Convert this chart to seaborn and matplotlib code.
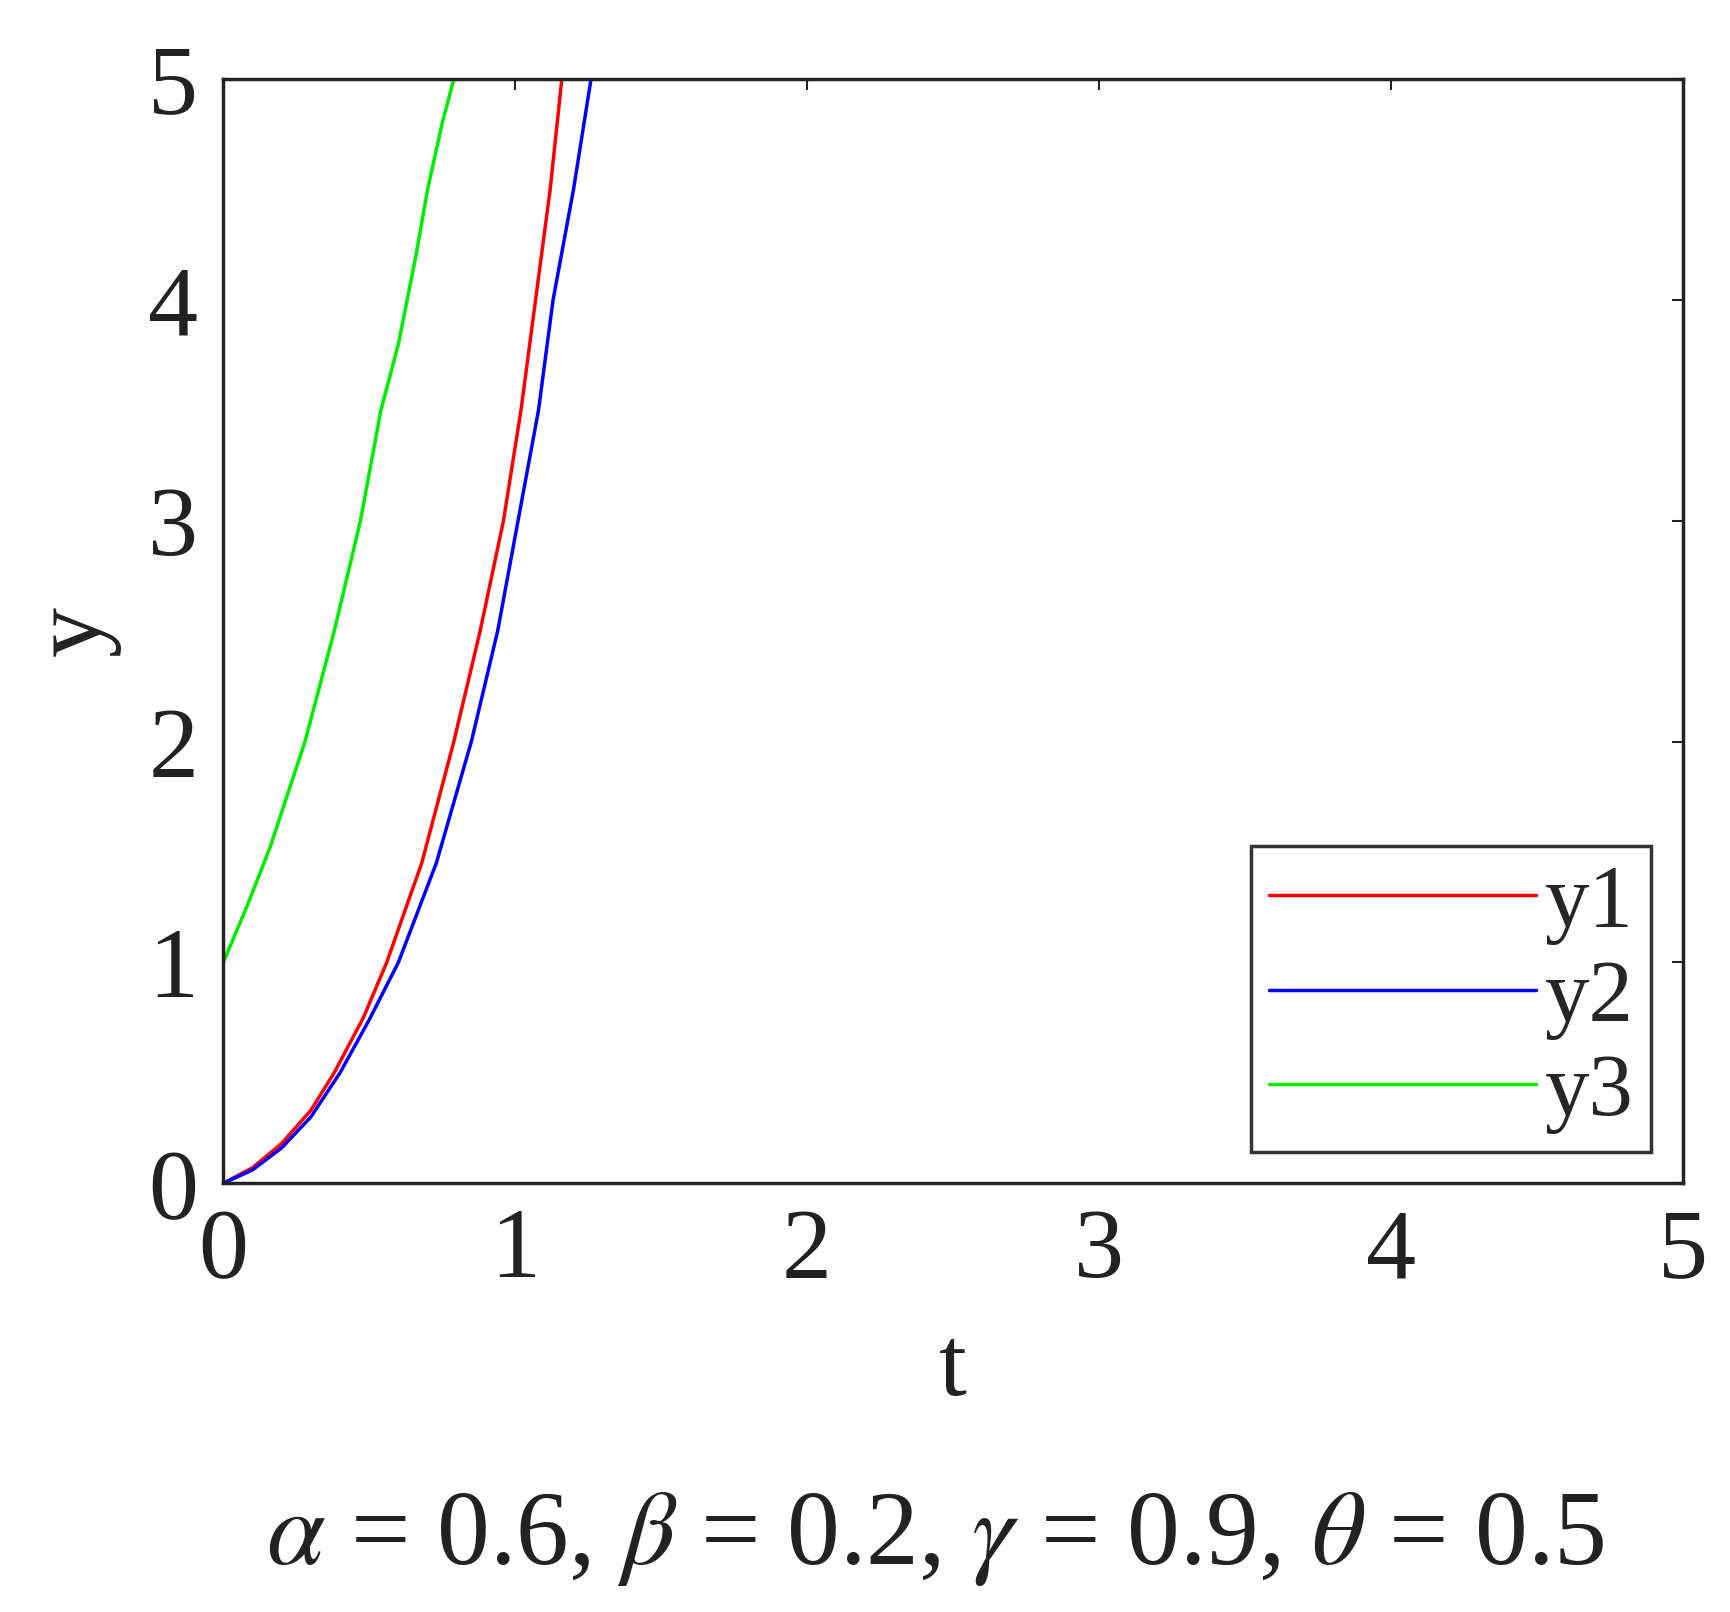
import numpy as np
import pandas as pd
import matplotlib
matplotlib.use('Agg')
import matplotlib.pyplot as plt
import seaborn as sns

# values
t1 = [0.0, 0.10, 0.20, 0.30, 0.38, 0.48, 0.56, 0.68, 0.79, 0.88, 0.96, 1.02, 1.07, 1.12, 1.16]
y1 = [0.0, 0.07, 0.18, 0.33, 0.50, 0.75, 1.00, 1.45, 2.00, 2.50, 3.00, 3.50, 4.00, 4.50, 5.00]
t2 = [0.0, 0.10, 0.20, 0.30, 0.40, 0.50, 0.60, 0.73, 0.85, 0.94, 1.01, 1.08, 1.13, 1.20, 1.26]
y2 = [0.0, 0.06, 0.16, 0.30, 0.50, 0.74, 1.00, 1.45, 2.00, 2.50, 3.00, 3.50, 4.00, 4.50, 5.00]
t3 = [0.0, 0.08, 0.16, 0.28, 0.38, 0.47, 0.54, 0.60, 0.66, 0.70, 0.75, 0.79, 0.83]
y3 = [1.0, 1.25, 1.52, 2.00, 2.50, 3.00, 3.50, 3.80, 4.20, 4.50, 4.80, 5.00, 5.20]

sns.set_theme(style='white')
plt.rcParams['font.family'] = ['Liberation Serif', 'DejaVu Serif']
plt.rcParams['mathtext.fontset'] = 'stix'

fig = plt.figure(figsize=(17.31, 16.12), dpi=100)
ax = fig.add_axes([0.129, 0.266, 0.843, 0.685])

sns.lineplot(x=t1, y=y1, color='#ff0000', lw=2.5, label='y1', ax=ax, sort=False)
sns.lineplot(x=t2, y=y2, color='#0000ff', lw=2.5, label='y2', ax=ax, sort=False)
sns.lineplot(x=t3, y=y3, color='#00ee00', lw=2.5, label='y3', ax=ax, sort=False)

ax.set_xlim(0, 5)
ax.set_ylim(0, 5)
ax.set_xticks(range(6))
ax.set_yticks(range(6))
ax.tick_params(direction='in', length=8, width=1.5, top=True, right=True,
               labelsize=72, colors='#222222', pad=18)
for s in ax.spines.values():
    s.set_color('#222222')
    s.set_linewidth(2.5)
ax.set_xlabel('t', fontsize=72, color='#222222', labelpad=20)
ax.set_ylabel('y', fontsize=72, color='#222222', labelpad=20)

leg = ax.legend(loc='lower right', fontsize=64, frameon=True, fancybox=False,
                handlelength=3.0, borderaxespad=0.35, labelspacing=0.15,
                handletextpad=0.1, borderpad=0.2)
leg.get_frame().set_edgecolor('black')
leg.get_frame().set_linewidth(2.5)

fig.text(0.54, 0.03, r'$\alpha$ = 0.6, $\beta$ = 0.2, $\gamma$ = 0.9, $\theta$ = 0.5',
         ha='center', fontsize=76, color='#222222')

fig.savefig('out.png', dpi=100, facecolor='white')
